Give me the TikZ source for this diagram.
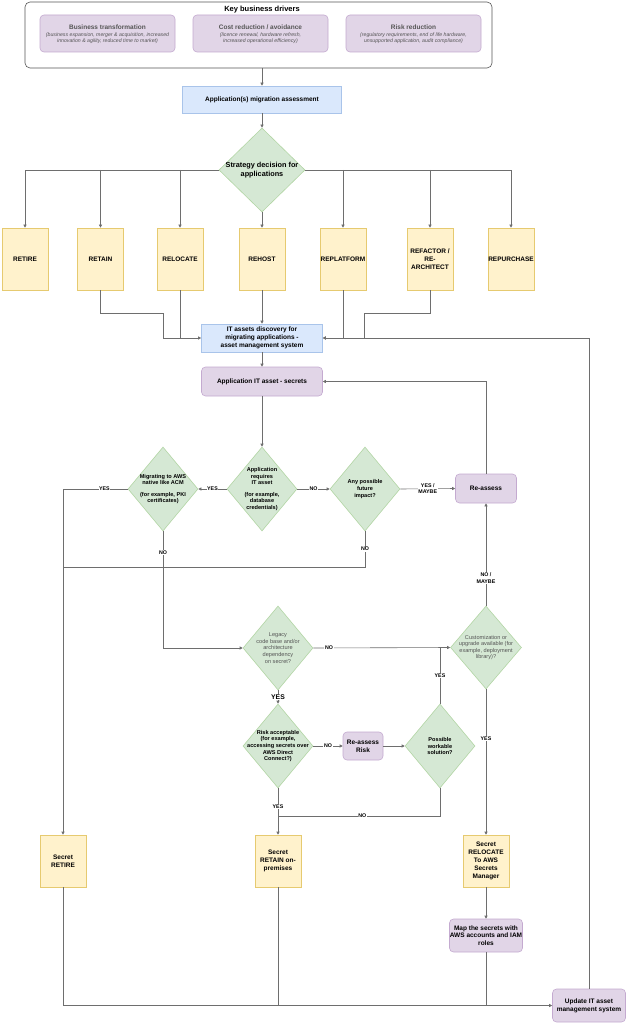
\documentclass[tikz,border=0pt]{standalone}
\usepackage{fontspec}
\setmainfont{Liberation Sans}
\usetikzlibrary{shapes.geometric,arrows.meta}
\definecolor{purf}{HTML}{E1D5E7}\definecolor{purd}{HTML}{C4AAD0}
\definecolor{bluf}{HTML}{DAE8FC}\definecolor{blud}{HTML}{A9C4EA}
\definecolor{yelf}{HTML}{FFF2CC}\definecolor{yeld}{HTML}{E6CA70}
\definecolor{grnf}{HTML}{D5E8D4}\definecolor{grnd}{HTML}{B2D5A4}
\definecolor{ln}{HTML}{6E6E6E}\definecolor{tg}{HTML}{555555}
\newcommand\subfnt{\fontsize{5.2}{6.2}\selectfont\mdseries\itshape}
\begin{document}
\begin{tikzpicture}[x=1pt,y=-1pt,
 base/.style={inner sep=0pt, align=center, font=\fontsize{6.5}{7.8}\selectfont\bfseries},
 purbox/.style={base, rectangle, rounded corners=4pt, fill=purf, draw=purd, line width=0.6pt},
 blubox/.style={base, rectangle, fill=bluf, draw=blud, line width=0.6pt},
 yelbox/.style={base, rectangle, fill=yelf, draw=yeld, line width=0.6pt, minimum width=46pt, minimum height=62pt},
 dia/.style={diamond, fill=grnf, draw=grnd, line width=0.6pt, inner sep=0pt, minimum width=70pt, minimum height=84pt},
 dtext/.style={base, font=\fontsize{5.6}{6.6}\selectfont\bfseries},
 gtext/.style={base, text=tg, font=\fontsize{5.6}{6.6}\selectfont},
 conn/.style={draw=ln, line width=0.6pt},
 arr/.style={conn, -{Triangle[length=3pt,width=3pt]}},
 lbl/.style={fill=white, inner sep=0.6pt, font=\fontsize{5.3}{6.1}\selectfont\bfseries, align=center},
 drv/.style={purbox, minimum width=135pt, minimum height=37pt, text=tg},
 drvt/.style={base, text=tg, font=\fontsize{6.5}{7.8}\selectfont\bfseries},
 drvs/.style={inner sep=0pt, align=center, text=tg, font=\subfnt},
]
\useasboundingbox (0,0) rectangle (629,1024);
% key business drivers
\node[rectangle, rounded corners=5pt, draw=tg, fill=white, line width=0.6pt, minimum width=467pt, minimum height=66pt] (kbd) at (258.5,35) {};
\node[base, font=\fontsize{7.5}{9}\selectfont\bfseries] (kbdt) at (262,9.5) {Key business drivers};
\node[drv] (d1) at (107.5,33.5) {};
\node[drv] (d2) at (260.5,33.5) {};
\node[drv] (d3) at (413.5,33.5) {};
\node[drvt] (d1t) at (107.5,27.5) {Business transformation};
\node[drvt] (d2t) at (260.5,27.5) {Cost reduction / avoidance};
\node[drvt] (d3t) at (413.5,27.5) {Risk reduction};
\node[drvs] (d1s) at (107.5,38.5) {(business expansion, merger \& acquisition, increased\\innovation \& agility, reduced time to market)};
\node[drvs] (d2s) at (260.5,38.5) {(licence renewal, hardware refresh,\\increased operational efficiency)};
\node[drvs] (d3s) at (413.5,38.5) {(regulatory requirements, end of life hardware,\\unsupported application, audit compliance)};
% assessment
\node[blubox, minimum width=159pt, minimum height=27pt] (assess) at (262,99.5) {Application(s) migration assessment};
\draw[arr] (assess.north |- kbd.south) -- (assess.north);
\node[dia, minimum width=86pt, minimum height=84pt] (strat) at (262,170) {};
\node[base, font=\fontsize{7.3}{8.6}\selectfont\bfseries] (stratt) at (strat) {Strategy decision for\\applications};
\draw[arr] (assess) -- (strat);
% strategies
\node[yelbox] (retire) at (25,259) {RETIRE};
\node[yelbox] (retain) at (100.5,259) {RETAIN};
\node[yelbox] (relocate) at (180,259) {RELOCATE};
\node[yelbox] (rehost) at (262,259) {REHOST};
\node[yelbox] (replat) at (343,259) {REPLATFORM};
\node[yelbox] (refactor) at (430,259) {REFACTOR /\\RE-\\ARCHITECT};
\node[yelbox] (repurch) at (511,259) {REPURCHASE};
\draw[arr] (strat.west) -| (retire.north);
\draw[arr] (retain.north |- strat.west) -- (retain.north);
\draw[arr] (relocate.north |- strat.west) -- (relocate.north);
\draw[arr] (strat.south) -- (rehost.north);
\draw[arr] (replat.north |- strat.east) -- (replat.north);
\draw[arr] (refactor.north |- strat.east) -- (refactor.north);
\draw[arr] (strat.east) -| (repurch.north);
% IT assets discovery
\node[blubox, minimum width=121pt, minimum height=28pt] (itad) at (262,338) {IT assets discovery for\\migrating applications -\\asset management system};
\coordinate (ja) at (163,313);
\coordinate (jb) at (364,313);
\draw[arr] (retain.south) |- (ja) |- (itad.west);
\draw[conn] (relocate.south) -- (relocate.south |- itad.west);
\draw[arr] (rehost) -- (itad);
\draw[arr] (replat.south) |- (itad.east);
\draw[conn] (refactor.south) |- (jb) -- (jb |- itad.east);
\node[purbox, minimum width=121pt, minimum height=29pt] (secrets) at (262,381.5) {Application IT asset - secrets};
\draw[arr] (itad) -- (secrets);
% decision row
\node[dia] (req) at (262,489) {};
\node[dtext] at (req) {Application\\requires\\IT asset\\[5pt](for example,\\database\\credentials)};
\node[dia] (mig) at (163,489) {};
\node[dtext] at (mig) {Migrating to AWS\\native like ACM\\[5pt](for example, PKI\\certificates)};
\node[dia] (fut) at (365,489) {};
\node[dtext] at (fut) {Any possible\\future\\impact?};
\node[purbox, minimum width=61pt, minimum height=29pt] (reassess) at (486,488.5) {Re-assess};
\draw[arr] (secrets) -- (req.north);
\draw[arr] (reassess.north) |- (secrets.east);
\draw[arr] (req.west) -- node[lbl]{YES} (mig.east);
\draw[arr] (req.east) -- node[lbl]{NO} (fut.west);
\draw[arr] (fut.east) -- node[lbl]{YES /\\MAYBE} (reassess.west);
% middle
\node[dia] (legacy) at (278,648) {};
\node[gtext] at (legacy) {Legacy\\code base and/or\\architecture\\dependency\\on secret?};
\node[dia, minimum width=71pt, minimum height=83pt] (cust) at (486,647.5) {};
\node[gtext] at (cust) {Customization or\\upgrade available (for\\example, deployment\\library)?};
\node[dia] (risk) at (278,746) {};
\node[dtext] at (risk) {Risk acceptable\\(for example,\\accessing secrets over\\AWS Direct\\Connect?)};
\node[purbox, minimum width=40pt, minimum height=28pt] (rrisk) at (363,746) {Re-assess\\Risk};
\node[dia] (poss) at (440,746) {};
\node[dtext] at (poss) {Possible\\workable\\solution?};
% bottom
\node[yelbox, minimum height=52pt] (sretire) at (63,861) {Secret\\RETIRE};
\node[yelbox, minimum height=52pt] (sretain) at (278,861) {Secret\\RETAIN on-\\premises};
\node[yelbox, minimum height=52pt] (sreloc) at (486,861) {Secret\\RELOCATE\\To AWS\\Secrets\\Manager};
\node[purbox, minimum width=73pt, minimum height=33pt] (map) at (486,935.5) {Map the secrets with\\AWS accounts and IAM\\roles};
\node[purbox, minimum width=73pt, minimum height=33pt] (update) at (589,1005.5) {Update IT asset\\management system};
\coordinate (jc) at (63,567);
\coordinate (jd) at (278,816);
\draw[arr] (mig.west) -| node[lbl, pos=0.18]{YES} (sretire.north);
\draw[arr] (mig.south) |- node[lbl, pos=0.09]{NO} (legacy.west);
\draw[conn] (fut.south) |- node[lbl, pos=0.25]{NO} (jc);
\draw[arr] (legacy.east) -- node[lbl, pos=0.115]{NO} (cust.west);
\draw[arr] (legacy.south) -- node[lbl, font=\fontsize{6.8}{7.5}\selectfont\bfseries]{YES} (risk.north);
\draw[arr] (risk.east) -- node[lbl]{NO} (rrisk.west);
\draw[arr] (rrisk.east) -- (poss.west);
\draw[conn] (poss.north) -- node[lbl]{YES} (poss.north |- legacy.east);
\draw[arr] (cust.north) -- node[lbl, pos=0.27]{NO /\\MAYBE} (reassess.south);
\draw[arr] (cust.south) -- node[lbl, pos=0.34]{YES} (sreloc.north);
\draw[arr] (risk.south) -- node[lbl, pos=0.4]{YES} (sretain.north);
\draw[conn] (poss.south) |- node[lbl, pos=0.74]{NO} (jd);
\draw[arr] (sreloc) -- (map);
\draw[arr] (sretire.south) |- (update.west);
\draw[conn] (sretain.south) -- (sretain.south |- update.west);
\draw[conn] (map.south) -- (map.south |- update.west);
\draw[arr] (update.north) |- (itad.east);
\end{tikzpicture}
\end{document}
